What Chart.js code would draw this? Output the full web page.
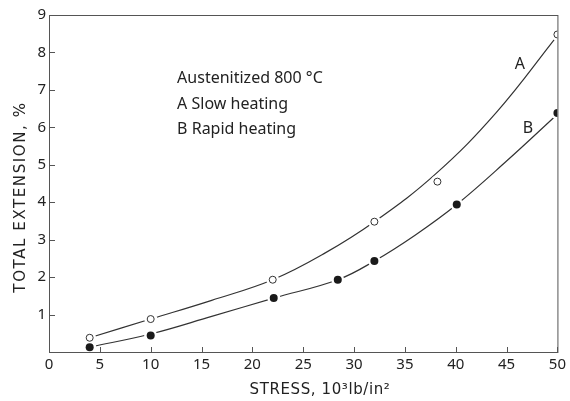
<!DOCTYPE html>
<html>
<head>
<meta charset="utf-8">
<script src="https://cdn.jsdelivr.net/npm/chart.js@4/dist/chart.umd.min.js"></script>
<style>
  html, body { margin: 0; padding: 0; background: #fff; }
  #wrap { width: 570px; height: 401px; }
</style>
</head>
<body>
<div id="wrap"><canvas id="extChart"></canvas></div>
<script>
    // Measured points
    const stressA = [4, 10, 22, 32, 38.2, 50];
    const extA = [0.38, 0.88, 1.93, 3.48, 4.55, 8.48];
    const stressB = [4, 10, 22.1, 28.4, 32, 40.1, 50];
    const extB = [0.13, 0.44, 1.44, 1.93, 2.43, 3.94, 6.38];

    // Fitted curves
    const curveAx = [4, 10, 16, 22, 27, 32, 38, 44, 50];
    const curveAy = [0.38, 0.88, 1.38, 1.93, 2.62, 3.48, 4.75, 6.4, 8.45];
    const curveBx = [4, 10, 16, 22.1, 28.4, 32, 36, 40.1, 45, 50];
    const curveBy = [0.13, 0.48, 0.95, 1.44, 1.93, 2.43, 3.12, 3.94, 5.1, 6.35];

    const xTicks = [0, 5, 10, 15, 20, 25, 30, 35, 40, 45, 50];
    const yTicks = [1, 2, 3, 4, 5, 6, 7, 8, 9];

    const ink = '#333';
    const axisInk = '#555';
    const font = "'Noto Sans', sans-serif";
    const titleFont = "'DejaVu Sans', sans-serif";

    function pts(xs, ys) {
        return xs.map(function(x, i) { return { x: x, y: ys[i] }; });
    }

    // Frame, inward tick marks, axis titles and text notes
    const framePlugin = {
        id: 'frame',
        afterDraw: function(chart) {
            const c = chart.ctx;
            const a = chart.chartArea;
            const xs = chart.scales.x;
            const ys = chart.scales.y;
            c.save();
            c.strokeStyle = axisInk;
            c.lineWidth = 1;
            c.strokeRect(a.left + 0.5, a.top + 0.5, a.right - a.left, a.bottom - a.top);
            c.beginPath();
            xTicks.forEach(function(v) {
                const px = Math.round(xs.getPixelForValue(v)) + 0.5;
                c.moveTo(px, a.bottom);
                c.lineTo(px, a.bottom - 5);
            });
            yTicks.forEach(function(v) {
                const py = Math.round(ys.getPixelForValue(v)) + 0.5;
                c.moveTo(a.left, py);
                c.lineTo(a.left + 6, py);
            });
            c.stroke();

            c.fillStyle = '#222';
            c.textBaseline = 'middle';

            // axis titles
            c.font = '15px ' + titleFont;
            c.textAlign = 'center';
            c.letterSpacing = '0.6px';
            c.fillText('STRESS, 10³lb/in²', 320, 390);
            c.save();
            c.letterSpacing = '1.6px';
            c.translate(21, 197);
            c.rotate(-Math.PI / 2);
            c.fillText('TOTAL EXTENSION, %', 0, 0);
            c.restore();
            c.letterSpacing = '0px';

            // notes
            c.font = '16px ' + font;
            c.textAlign = 'left';
            const lx = xs.getPixelForValue(12.6);
            c.fillText('Austenitized 800 °C', lx, ys.getPixelForValue(7.3));
            c.fillText('A Slow heating', lx, ys.getPixelForValue(6.62));
            c.fillText('B Rapid heating', lx, ys.getPixelForValue(5.95));
            c.textAlign = 'center';
            c.fillText('A', xs.getPixelForValue(46.3), ys.getPixelForValue(7.67));
            c.fillText('B', xs.getPixelForValue(47.1), ys.getPixelForValue(5.98));
            c.restore();
        }
    };

    const ctx = document.getElementById('extChart').getContext('2d');

    const extChart = new Chart(ctx, {
        type: 'scatter',
        data: {
            datasets: [
                {
                    label: 'A points',
                    data: pts(stressA, extA),
                    pointRadius: 3.5,
                    pointBackgroundColor: '#fff',
                    pointBorderColor: ink,
                    pointBorderWidth: 1,
                    showLine: false,
                    order: 0
                },
                {
                    label: 'B points',
                    data: pts(stressB, extB),
                    pointRadius: 4,
                    pointBackgroundColor: '#1a1a1a',
                    pointBorderColor: '#1a1a1a',
                    pointBorderWidth: 0,
                    showLine: false,
                    order: 0
                },
                {
                    label: 'halo A',
                    data: pts(stressA, extA),
                    pointRadius: 6.5,
                    pointBackgroundColor: '#fff',
                    pointBorderWidth: 0,
                    showLine: false,
                    order: 1
                },
                {
                    label: 'halo B',
                    data: pts(stressB, extB),
                    pointRadius: 6.5,
                    pointBackgroundColor: '#fff',
                    pointBorderWidth: 0,
                    showLine: false,
                    order: 1
                },
                {
                    label: 'Curve A',
                    data: pts(curveAx, curveAy),
                    showLine: true,
                    borderColor: ink,
                    borderWidth: 1.2,
                    pointRadius: 0,
                    tension: 0.4,
                    order: 2
                },
                {
                    label: 'Curve B',
                    data: pts(curveBx, curveBy),
                    showLine: true,
                    borderColor: ink,
                    borderWidth: 1.2,
                    pointRadius: 0,
                    tension: 0.4,
                    order: 2
                }
            ]
        },
        options: {
            responsive: true,
            maintainAspectRatio: false,
            animation: false,
            layout: { padding: { top: 15, right: 12, left: 0, bottom: 0 } },
            plugins: {
                legend: { display: false },
                tooltip: { enabled: false }
            },
            scales: {
                x: {
                    type: 'linear',
                    min: 0,
                    max: 50,
                    afterFit: function(s) { s.height = 49; },
                    afterBuildTicks: function(s) {
                        s.ticks = xTicks.map(function(v) { return { value: v }; });
                    },
                    grid: { drawOnChartArea: false, drawTicks: false },
                    border: { display: false },
                    ticks: {
                        padding: 4,
                        color: '#222',
                        font: { family: font, size: 15 },
                        maxRotation: 0
                    }
                },
                y: {
                    type: 'linear',
                    min: 0,
                    max: 9,
                    afterFit: function(s) { s.width = 49; },
                    afterBuildTicks: function(s) {
                        s.ticks = yTicks.map(function(v) { return { value: v }; });
                    },
                    grid: { drawOnChartArea: false, drawTicks: false },
                    border: { display: false },
                    ticks: {
                        padding: 3,
                        color: '#222',
                        font: { family: font, size: 15 }
                    }
                }
            }
        },
        plugins: [framePlugin]
    });
</script>
</body>
</html>
